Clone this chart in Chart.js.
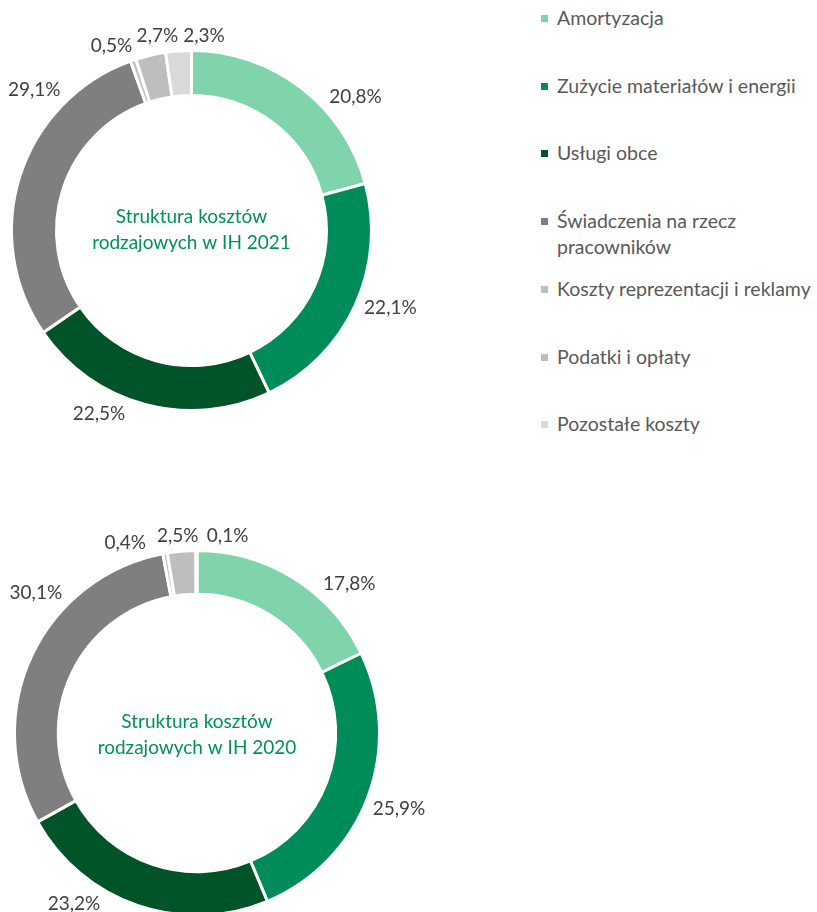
<!DOCTYPE html>
<html>
<head>
<meta charset="utf-8">
<script src="https://cdn.jsdelivr.net/npm/chart.js@4/dist/chart.umd.min.js"></script>
<style>
  html, body { margin: 0; padding: 0; background: #fff; }
  body { width: 817px; height: 912px; overflow: hidden; position: relative; font-family: Lato, "Open Sans", sans-serif; }
  .wrap { position: absolute; }
  #legend { position: absolute; left: 541px; top: 0; width: 276px; margin: 0; padding: 0; list-style: none; }
  #legend li { position: absolute; left: 0; width: 276px; font-size: 19.5px; line-height: 26px; color: #595959; }
  #legend .box { position: absolute; left: 0; top: 10px; width: 7px; height: 7px; }
  #legend .txt { position: absolute; left: 16px; top: 0; width: 262px; white-space: normal; }
</style>
</head>
<body>
<div class="wrap" style="left:0;top:0;width:420px;height:460px"><canvas id="c2021" width="420" height="460"></canvas></div>
<div class="wrap" style="left:0;top:460px;width:440px;height:480px"><canvas id="c2020" width="440" height="480"></canvas></div>
<ul id="legend"></ul>
<script>
const categories = [
  'Amortyzacja',
  'Zużycie materiałów i energii',
  'Usługi obce',
  'Świadczenia na rzecz pracowników',
  'Koszty reprezentacji i reklamy',
  'Podatki i opłaty',
  'Pozostałe koszty'
];
const values2021 = [20.8, 22.1, 22.5, 29.1, 0.5, 2.7, 2.3];
const values2020 = [17.8, 25.9, 23.2, 30.1, 0.4, 2.5, 0.1];
const labels2021 = ['20,8%', '22,1%', '22,5%', '29,1%', '0,5%', '2,7%', '2,3%'];
const labels2020 = ['17,8%', '25,9%', '23,2%', '30,1%', '0,4%', '2,5%', '0,1%'];
const centerTitle2021 = ['Struktura kosztów', 'rodzajowych w IH 2021'];
const centerTitle2020 = ['Struktura kosztów', 'rodzajowych w IH 2020'];

const colors = ['#7fd4ac', '#008c59', '#005427', '#7f7f7f', '#bfbfbf', '#bebebe', '#d9d9d9'];
const FONT = 'Lato, "Open Sans", sans-serif';

const outerLabels = {
  id: 'outerLabels',
  afterDatasetsDraw(chart, args, opts) {
    const ctx = chart.ctx;
    const arcs = chart.getDatasetMeta(0).data;
    ctx.save();
    ctx.font = '19px ' + FONT;
    ctx.fillStyle = '#404040';
    ctx.textAlign = 'center';
    ctx.textBaseline = 'middle';
    arcs.forEach((arc, i) => {
      const p = arc.getProps(['x', 'y', 'startAngle', 'endAngle', 'outerRadius'], true);
      const a = (p.startAngle + p.endAngle) / 2 + (opts.nudge[i] || 0) * Math.PI / 180;
      const text = opts.texts[i];
      const hw = ctx.measureText(text).width / 2;
      const hh = 8;
      const d = p.outerRadius + 6 + hw * Math.abs(Math.cos(a)) + hh * Math.abs(Math.sin(a));
      ctx.fillText(text, p.x + d * Math.cos(a), p.y + d * Math.sin(a));
    });
    ctx.restore();
  }
};

const centerText = {
  id: 'centerText',
  afterDatasetsDraw(chart, args, opts) {
    const ctx = chart.ctx;
    const arc = chart.getDatasetMeta(0).data[0];
    const cx = arc.x, cy = arc.y;
    ctx.save();
    ctx.font = '19px ' + FONT;
    ctx.fillStyle = '#00915a';
    ctx.textAlign = 'center';
    ctx.textBaseline = 'middle';
    const lh = 26;
    opts.lines.forEach((l, i) => {
      ctx.fillText(l, cx + (opts.dx || 0), cy + (opts.dy || 0) + (i - (opts.lines.length - 1) / 2) * lh);
    });
    ctx.restore();
  }
};

function makeChart(id, values, texts, title, cutout, padding, nudge, dy) {
  return new Chart(document.getElementById(id), {
    type: 'doughnut',
    data: {
      labels: categories,
      datasets: [{
        data: values,
        backgroundColor: colors,
        borderColor: '#ffffff',
        borderWidth: 3
      }]
    },
    options: {
      responsive: false,
      devicePixelRatio: 1,
      animation: false,
      cutout: cutout,
      layout: { padding: padding },
      plugins: {
        legend: { display: false },
        tooltip: { enabled: false },
        outerLabels: { texts: texts, nudge: nudge },
        centerText: { lines: title, dy: dy }
      }
    },
    plugins: [outerLabels, centerText]
  });
}

makeChart('c2021', values2021, labels2021, centerTitle2021, '75%',
  { left: 10, top: 49, right: 47, bottom: 48 },
  [13.4, -3.4, 11.9, 24, -4.5, 3.2, 7.8], -1);
makeChart('c2020', values2020, labels2020, centerTitle2020, '76%',
  { left: 13, top: 89, right: 59, bottom: 23 },
  [13.6, 0, 16.7, 16, -10.6, -0.7, 9], 2);

// HTML legend built from the categories and colours
const legend = document.getElementById('legend');
const slotStart = 18, slotStep = 67.7;
categories.forEach((name, i) => {
  const li = document.createElement('li');
  li.style.top = (slotStart + i * slotStep - 13) + 'px';
  const box = document.createElement('span');
  box.className = 'box';
  box.style.background = colors[i];
  const txt = document.createElement('span');
  txt.className = 'txt';
  txt.textContent = name;
  li.appendChild(box);
  li.appendChild(txt);
  legend.appendChild(li);
});
</script>
</body>
</html>
